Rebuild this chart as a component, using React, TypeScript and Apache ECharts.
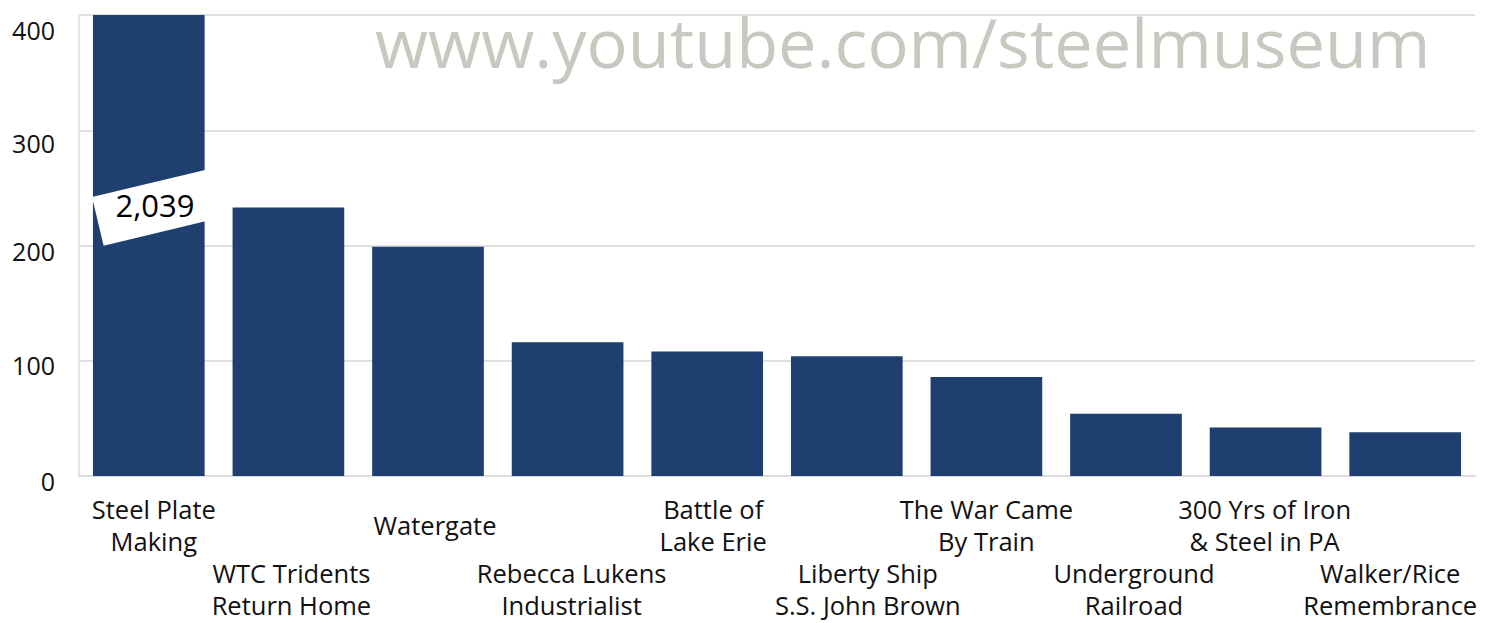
import React, { useEffect, useRef } from "react";
import * as echarts from "echarts";

const categories = [
  "Steel Plate\nMaking",
  "WTC Tridents\nReturn Home",
  "Watergate",
  "Rebecca Lukens\nIndustrialist",
  "Battle of\nLake Erie",
  "Liberty Ship\nS.S. John Brown",
  "The War Came\nBy Train",
  "Underground\nRailroad",
  "300 Yrs of Iron\n& Steel in PA",
  "Walker/Rice\nRemembrance",
];
const values = [2039, 233, 199, 116, 108, 104, 86, 54, 42, 38];
const yTicks = [0, 100, 200, 300, 400];
const watermark = "www.youtube.com/steelmuseum";
const breakLabel = "2,039";

// layout only: horizontal nudge of each category label, and vertical nudge of y labels
const labelShift = [5, 3, 7, 4, 6, 21, 0, 8, -1, -15];
const yLabelShift = [5, 4, 5, 13, 15];

export default function App() {
  const ref = useRef<HTMLDivElement>(null);
  useEffect(() => {
    if (!ref.current) return;
    const chart = echarts.init(ref.current, null, { renderer: "svg" });
    const font = "'Open Sans', 'Noto Sans', sans-serif";
    const xRich: Record<string, any> = {};
    labelShift.forEach((s, i) => {
      const pad = s >= 0 ? [0, 0, 0, 2 * s] : [0, -2 * s, 0, 0];
      const single = categories[i].indexOf("\n") < 0;
      xRich["s" + i] = {
        fontFamily: font,
        fontSize: 25.5,
        color: "#111",
        padding: pad,
        lineHeight: single ? 64 : 32,
      };
    });
    const yRich: Record<string, any> = {};
    yTicks.forEach((t, i) => {
      yRich["y" + i] = {
        fontFamily: font,
        fontSize: 25,
        color: "#111",
        padding: [2 * yLabelShift[i], 0, 0, 0],
      };
    });
    chart.setOption({
      animation: false,
      backgroundColor: "#ffffff",
      grid: {
        left: 79,
        right: 18,
        top: 15,
        bottom: 147,
        containLabel: false,
        outerBoundsMode: "none",
      },
      xAxis: {
        type: "category",
        data: categories,
        axisLine: { show: true, lineStyle: { color: "#dcdcdc", width: 2 } },
        axisTick: { show: false },
        axisLabel: {
          interval: 0,
          margin: 17,
          color: "#111",
          fontFamily: font,
          fontSize: 25.5,
          lineHeight: 32,
          formatter: (v: string, i: number) => {
            const body = v
              .split("\n")
              .map((l) => "{s" + i + "|" + l + "}")
              .join("\n");
            return i % 2 === 1 ? "\n\n" + body : body;
          },
          rich: xRich,
        },
      },
      yAxis: {
        type: "value",
        min: yTicks[0],
        max: yTicks[yTicks.length - 1],
        interval: 100,
        axisLine: { show: true, lineStyle: { color: "#e4e4e4", width: 2 } },
        axisTick: { show: false },
        splitLine: { lineStyle: { color: "#e0e0e0", width: 2 } },
        axisLabel: {
          color: "#111",
          fontFamily: font,
          fontSize: 25,
          margin: 24,
          formatter: (v: number) => {
            const i = yTicks.indexOf(v);
            return "{y" + i + "|" + v + "}";
          },
          rich: yRich,
        },
      },
      series: [
        {
          type: "bar",
          data: values,
          barCategoryGap: "20%",
          clip: true,
          itemStyle: { color: "#1e3f6f" },
        },
      ],
      graphic: [
        {
          type: "text",
          left: 375,
          top: 7,
          z: 0,
          style: {
            text: watermark,
            fontFamily: font,
            fontSize: 68.5,
            fill: "#c8c8c0",
          },
        },
        {
          type: "rect",
          x: 92,
          y: 197,
          rotation: 0.235,
          z: 100,
          shape: { x: 0, y: 0, width: 128, height: 50 },
          style: { fill: "#ffffff" },
        },
        {
          type: "text",
          x: 155,
          y: 205,
          z: 101,
          style: {
            text: breakLabel,
            fontFamily: font,
            fontSize: 31,
            fill: "#000",
            align: "center",
            verticalAlign: "middle",
          },
        },
      ],
    });
    return () => chart.dispose();
  }, []);
  return (
    <div
      ref={ref}
      style={{ position: "fixed", left: 0, top: 0, width: 1493, height: 623 }}
    />
  );
}
